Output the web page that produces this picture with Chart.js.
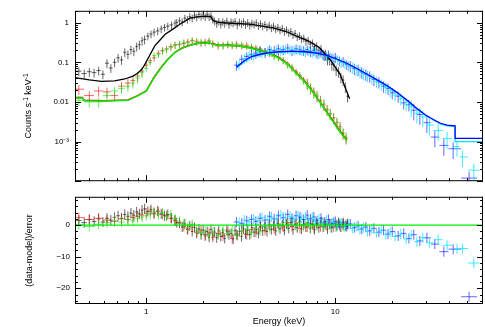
<!DOCTYPE html>
<html>
<head>
<meta charset="utf-8">
<script src="https://cdn.jsdelivr.net/npm/chart.js@4.4.0/dist/chart.umd.min.js"></script>
<style>
  html, body { margin: 0; padding: 0; background: #fff; }
  #wrap { position: relative; width: 485px; height: 327px; }
  #top { position: absolute; left: 0; top: 0; }
  #bot { position: absolute; left: 0; top: 187px; }
</style>
</head>
<body>
<div id="wrap">
  <canvas id="top" width="485" height="192"></canvas>
  <canvas id="bot" width="485" height="140"></canvas>
</div>
<script>
// ---- axis ranges and tick labels ----
const eMin = 0.42, eMax = 60.4;
const rateMin = 1e-4, rateMax = 2;
const residMin = -25, residMax = 9;
const energyTickVals = [1, 10];
const energyTickText = ['1', '10'];
const rateTickVals = [1e-3, 0.01, 0.1, 1];
const rateTickText = ['10\u207B\u00B3', '0.01', '0.1', '1'];
const residTickVals = [-20, -10, 0];
const residTickText = ['\u221220', '\u221210', '0'];

// ---- black spectrum (keV, counts/s/keV, residual) ----
const blackE = [0.44,0.47,0.50,0.53,0.56,0.59,0.62,0.65,0.68,0.71,
  0.74,0.77,0.80,0.83,0.86,0.89,0.92,0.95,0.98,1.02,
  1.06,1.10,1.15,1.20,1.25,1.30,1.36,1.42,1.45,
  1.50,1.55,1.60,1.65,1.70,1.75,1.80,1.85,1.90,1.95,
  2.00,2.05,2.10,2.15,2.20,2.25,2.30,2.36,2.42,2.48,
  2.54,2.60,2.67,2.74,2.81,2.88,2.95,3.03,3.11,3.19,
  3.27,3.35,3.44,3.53,3.62,3.72,3.82,3.92,4.02,4.13,
  4.24,4.35,4.47,4.59,4.71,4.84,4.97,5.10,5.24,5.38,
  5.52,5.67,5.82,5.97,6.13,6.29,6.46,6.63,6.81,6.99,
  7.18,7.37,7.56,7.76,7.97,8.18,8.40,8.62,8.85,9.09,
  9.33,9.58,9.83,10.1,10.4,10.7,11.0,11.3,11.6];
const blackRate = [0.060,0.052,0.058,0.055,0.062,0.050,0.095,0.072,0.10,0.13,
  0.115,0.18,0.16,0.21,0.19,0.25,0.28,0.35,0.38,0.46,
  0.52,0.58,0.62,0.70,0.76,0.82,0.88,0.98,1.02,
  1.12,1.05,1.30,1.20,1.42,1.30,1.55,1.38,1.62,1.45,
  1.58,1.40,1.65,1.42,1.50,1.22,1.10,0.95,1.08,0.92,
  1.06,0.96,1.10,0.90,1.05,0.98,1.08,0.88,1.04,0.95,
  1.06,0.90,1.00,0.86,0.98,0.92,1.00,0.84,0.94,0.82,
  0.90,0.78,0.86,0.74,0.82,0.70,0.76,0.66,0.72,0.60,
  0.66,0.56,0.60,0.50,0.54,0.44,0.47,0.39,0.41,0.34,
  0.36,0.29,0.31,0.25,0.26,0.20,0.21,0.16,0.16,0.12,
  0.12,0.088,0.085,0.064,0.058,0.042,0.036,0.024,0.014];
const blackResid = [1.5,0.8,1.8,1.2,2.0,1.0,2.2,1.6,2.5,3.0,
  2.2,3.4,2.8,3.8,3.2,4.2,3.6,4.8,5.2,4.4,
  4.9,3.8,4.5,3.6,3.0,3.4,2.2,1.6,0.8,
  0.8,-0.6,0.4,-1.4,-0.2,-2.0,-0.8,-2.6,-1.2,-3.0,
  -1.6,-3.4,-2.0,-3.8,-1.4,-3.2,-2.2,-4.0,-1.8,-3.6,
  -2.4,-4.2,-1.6,-3.0,-2.6,-4.4,-1.8,-3.2,-2.0,-3.6,
  -1.2,-2.8,-1.6,-3.0,-0.8,-2.2,-1.4,-2.6,-0.4,-1.8,
  -0.6,-2.0,0.2,-1.4,-0.2,-1.8,0.6,-1.2,0.0,-1.6,
  0.4,-1.0,0.8,-1.4,0.2,-0.8,1.0,-1.2,0.4,-0.6,
  0.8,-1.0,0.2,-1.4,0.6,-0.8,1.0,-0.6,0.2,-1.2,
  0.4,-0.8,0.6,-0.4,0.8,-0.6,0.2,-0.2,0.4];

// ---- red / green spectra (shared energy grid) ----
const rgE = [0.44,0.50,0.56,0.62,0.68,0.74,0.80,0.85,0.90,0.95,
  1.0,1.05,1.1,1.16,1.22,1.28,1.35,1.42,1.5,1.58,
  1.66,1.75,1.85,1.95,2.05,2.15,2.25,2.4,2.55,2.7,
  2.85,3.0,3.2,3.4,3.6,3.8,4.0,4.25,4.5,4.75,
  5.0,5.3,5.6,5.9,6.2,6.5,6.8,7.1,7.4,7.7,
  8.0,8.35,8.7,9.05,9.4,9.8,10.2,10.6,11.0,11.4];
const redRate = [0.021,0.0145,0.019,0.018,0.0145,0.025,0.030,0.035,0.045,0.060,
  0.085,0.11,0.13,0.17,0.20,0.22,0.25,0.27,0.28,0.30,
  0.33,0.35,0.34,0.31,0.33,0.35,0.30,0.26,0.27,0.28,
  0.27,0.29,0.26,0.27,0.24,0.23,0.21,0.19,0.17,0.15,
  0.135,0.11,0.09,0.072,0.058,0.045,0.036,0.030,0.022,0.018,
  0.014,0.011,0.0085,0.0065,0.0050,0.0040,0.0030,0.0024,0.0016,0.0012];
const greenRate = [0.011,0.010,0.010,0.0145,0.019,0.022,0.025,0.030,0.040,0.055,
  0.070,0.10,0.15,0.16,0.19,0.21,0.24,0.28,0.29,0.32,
  0.31,0.36,0.32,0.33,0.31,0.34,0.29,0.28,0.26,0.29,
  0.28,0.27,0.28,0.25,0.25,0.22,0.22,0.18,0.18,0.14,
  0.13,0.115,0.085,0.075,0.055,0.047,0.034,0.028,0.023,0.017,
  0.015,0.010,0.009,0.0062,0.0052,0.0038,0.0031,0.0022,0.0017,0.0013];
const redResid = [2.4,1.8,2.2,1.6,1.2,2.0,1.8,2.4,2.8,3.2,
  3.8,4.4,3.6,4.2,3.4,3.0,2.2,1.4,0.6,-0.4,
  -1.2,-0.6,-2.2,-1.6,-3.0,-2.4,-3.8,-2.6,-3.4,-2.0,
  -4.2,-2.8,-1.8,-3.0,-1.4,-2.2,-0.8,-1.6,-0.2,-1.2,
  0.4,-0.6,0.8,-0.4,0.6,-1.0,0.2,-0.6,0.5,-0.8,
  0.3,-0.5,0.7,-0.3,0.4,-0.6,0.2,-0.4,0.5,-0.2];
const greenResid = [0.2,-0.4,0.3,0.8,1.4,1.0,1.8,1.4,2.2,2.6,
  3.0,3.6,4.2,3.4,3.8,2.8,3.2,2.0,1.2,0.4,
  -0.6,0.2,-1.6,-2.4,-1.8,-3.2,-2.2,-3.0,-1.6,-2.6,
  -1.8,-3.2,-2.0,-1.2,-2.4,-1.0,-1.8,-0.4,-1.0,0.2,
  -0.6,0.8,0.0,1.2,-0.2,0.9,-0.4,0.6,-0.6,0.4,
  -0.2,0.8,-0.5,0.3,-0.7,0.5,-0.3,0.6,-0.4,0.3];

// ---- blue spectrum ----
const blueE = [3.0,3.2,3.4,3.6,3.8,4.0,4.25,4.5,4.75,5.0,
  5.3,5.6,5.9,6.2,6.5,6.8,7.1,7.4,7.7,8.0,
  8.4,8.8,9.2,9.6,10.0,10.5,11.0,11.5,12.0,12.6,
  13.2,13.8,14.5,15.2,16.0,17.0,18.0,19.0,20.0,21.5,
  23.0,24.5,26.0,28.0,30.5,33.6,37.5,42.0,51.0];
const blueRate = [0.085,0.12,0.14,0.16,0.17,0.19,0.18,0.21,0.20,0.22,
  0.21,0.23,0.20,0.22,0.21,0.20,0.21,0.19,0.20,0.17,
  0.18,0.15,0.155,0.13,0.135,0.11,0.105,0.088,0.082,0.07,
  0.066,0.057,0.05,0.045,0.037,0.032,0.025,0.022,0.017,0.014,
  0.0095,0.0085,0.0062,0.0048,0.0030,0.0013,0.0008,0.00066,0.00012];
const blueResid = [1.0,0.6,1.4,1.8,1.2,2.2,1.6,2.8,2.0,3.0,
  2.4,3.4,2.2,3.0,2.6,1.8,3.2,2.0,2.6,1.4,
  2.2,1.0,1.8,0.6,1.2,0.2,0.8,-0.4,0.4,-0.8,
  -0.2,-1.2,-0.6,-1.8,-1.0,-2.2,-1.6,-2.8,-2.0,-3.4,
  -2.6,-4.2,-3.0,-5.0,-4.0,-6.0,-8.4,-7.6,-22.7];

// ---- cyan spectrum ----
const cyanE = [3.1,3.3,3.5,3.7,3.9,4.1,4.4,4.6,4.9,5.15,
  5.45,5.75,6.05,6.35,6.65,6.95,7.25,7.55,7.85,8.2,
  8.6,9.0,9.4,9.8,10.25,10.75,11.25,11.75,12.3,12.9,
  13.5,14.1,14.8,15.6,16.5,17.5,18.5,19.5,20.7,22.2,
  23.7,25.2,27.0,29.0,31.5,35.0,39.0,44.0,47.0,54.0];
const cyanRate = [0.09,0.125,0.15,0.155,0.18,0.175,0.20,0.19,0.21,0.20,
  0.22,0.21,0.205,0.215,0.20,0.19,0.20,0.18,0.185,0.165,
  0.16,0.145,0.14,0.125,0.12,0.10,0.095,0.082,0.075,0.066,
  0.058,0.052,0.046,0.040,0.033,0.028,0.023,0.019,0.015,0.012,
  0.0085,0.0075,0.0052,0.0042,0.0026,0.0019,0.0012,0.00075,0.00041,0.00019];
const cyanResid = [0.8,1.6,1.0,2.0,1.4,2.4,1.8,2.6,2.0,3.2,
  2.4,2.8,1.8,3.0,2.2,2.6,1.6,2.4,1.2,2.0,
  0.8,1.6,0.4,1.0,-0.2,0.6,-0.6,0.2,-1.0,-0.4,
  -1.4,-0.8,-2.0,-1.2,-2.4,-1.6,-3.0,-2.2,-3.6,-2.8,
  -4.4,-3.2,-5.2,-4.0,-5.6,-4.6,-6.4,-7.5,-7.4,-12.0];

// ---- folded models ----
const blackModelE = [0.42,0.5,0.58,0.68,0.77,0.85,0.9,0.95,0.985,1.05,1.11,1.18,1.26,1.39,1.5,1.7,
  1.85,2.09,2.2,2.26,2.4,2.8,3.5,4.7,5.5,6.24,7.07,7.6,8.27,9.35,10.6,11.9];
const blackModel = [0.041,0.036,0.033,0.034,0.038,0.045,0.053,0.068,0.09,0.16,0.26,0.36,0.51,0.70,0.90,1.30,
  1.40,1.47,1.40,1.13,1.02,0.97,0.92,0.74,0.60,0.46,0.36,0.30,0.23,0.12,0.05,0.012];
const rgModelE = [0.42,0.46,0.47,0.6,0.8,0.9,1.0,1.1,1.2,1.3,1.42,1.55,1.7,1.85,2.0,2.15,
  2.25,2.4,2.7,3.1,3.6,4.15,4.7,5.1,5.6,6.2,6.8,7.5,8.3,9.3,10.3,11.5];
const redModel = [0.013,0.013,0.011,0.0108,0.0112,0.0144,0.019,0.042,0.075,0.12,0.18,0.23,0.27,0.30,0.31,0.31,
  0.29,0.27,0.27,0.26,0.23,0.19,0.155,0.125,0.092,0.055,0.036,0.02,0.01,0.0045,0.0022,0.0011];
const greenModel = [0.0125,0.0125,0.0108,0.0106,0.011,0.0142,0.0188,0.041,0.074,0.118,0.178,0.228,0.268,0.30,0.305,0.31,
  0.288,0.268,0.268,0.258,0.228,0.188,0.153,0.123,0.09,0.054,0.035,0.0195,0.0098,0.0044,0.0021,0.00105];
const hxModelE = [3.0,3.3,3.6,4.0,4.5,5.0,5.6,6.2,7.0,8.0,9.0,10.0,11.5,13,
  15,17,19,21,24,27,30,33,36,39,43,43,60.4];
const blueModel = [0.075,0.11,0.14,0.16,0.175,0.185,0.19,0.19,0.185,0.17,0.15,0.125,0.095,0.07,
  0.048,0.034,0.025,0.018,0.011,0.0068,0.0047,0.0036,0.0029,0.0026,0.0025,0.0012,0.0012];
const cyanModel = [0.072,0.105,0.135,0.155,0.17,0.18,0.185,0.185,0.18,0.165,0.145,0.122,0.092,0.068,
  0.047,0.033,0.024,0.0175,0.0105,0.0066,0.0046,0.0035,0.0028,0.0025,0.0024,0.001,0.001];
const zeroLine = [0, 0];

Chart.defaults.font.family = '"Liberation Sans", Arial, Helvetica, sans-serif';
Chart.defaults.color = '#000';

// bin edges halfway (in log) between neighbouring channels
function binEdges(E) {
  return E.map((e, i) => {
    const lo = i > 0 ? Math.sqrt(e * E[i - 1]) : e * Math.sqrt(e / E[i + 1]);
    const hi = i < E.length - 1 ? Math.sqrt(e * E[i + 1]) : e * Math.sqrt(e / E[i - 1]);
    return [lo, hi];
  });
}

// fractional 1-sigma errors of the count rates
const errBlack = e => e < 1 ? 0.25 : e < 8 ? 0.22 : 0.3;
const errRG = e => e < 1 ? 0.28 : e < 7 ? 0.2 : 0.3;
const errHX = e => e < 12 ? 0.28 : e < 25 ? 0.32 : 0.45;
const residErr = 1.6;

function rateSet(E, rate, color, errFn) {
  const b = binEdges(E);
  return {
    data: E.map((e, i) => ({ x: e, y: rate[i] })),
    showLine: false, pointRadius: 0, barColor: color,
    bars: E.map((e, i) => ({ x: e, y: rate[i], xl: b[i][0], xh: b[i][1],
      yl: rate[i] * (1 - errFn(e)), yh: rate[i] * (1 + errFn(e)) }))
  };
}

function residSet(E, resid, color) {
  const b = binEdges(E);
  return {
    data: E.map((e, i) => ({ x: e, y: resid[i] })),
    showLine: false, pointRadius: 0, barColor: color,
    bars: E.map((e, i) => ({ x: e, y: resid[i], xl: b[i][0], xh: b[i][1],
      yl: resid[i] - residErr, yh: resid[i] + residErr }))
  };
}

function modelSet(E, vals, color, width, order) {
  return {
    data: E.map((e, i) => ({ x: e, y: vals[i] })),
    showLine: true, pointRadius: 0, borderColor: color, borderWidth: width,
    fill: false, tension: 0, order: order
  };
}

// error crosses, drawn under the model lines
const crossPlugin = {
  id: 'crosses',
  beforeDatasetsDraw(chart) {
    const { ctx, chartArea: a, scales } = chart;
    ctx.save();
    ctx.beginPath();
    ctx.rect(a.left, a.top, a.right - a.left, a.bottom - a.top);
    ctx.clip();
    ctx.lineWidth = 1;
    chart.data.datasets.forEach(ds => {
      if (!ds.bars) return;
      ctx.strokeStyle = ds.barColor;
      ctx.beginPath();
      ds.bars.forEach(b => {
        const px = scales.x.getPixelForValue(b.x);
        const py = scales.y.getPixelForValue(b.y);
        ctx.moveTo(scales.x.getPixelForValue(b.xl), py);
        ctx.lineTo(scales.x.getPixelForValue(b.xh), py);
        ctx.moveTo(px, scales.y.getPixelForValue(b.yl));
        ctx.lineTo(px, scales.y.getPixelForValue(b.yh));
      });
      ctx.stroke();
    });
    ctx.restore();
  }
};

function logTicks(min, max) {
  const out = [];
  for (let k = Math.floor(Math.log10(min)); k <= Math.ceil(Math.log10(max)); k++) {
    for (let m = 1; m <= 9; m++) {
      const v = m * Math.pow(10, k);
      if (v >= min * 0.999 && v <= max * 1.001) out.push([v, m === 1]);
    }
  }
  return out;
}

function linTicks(min, max) {
  const out = [];
  for (let v = Math.ceil(min / 2) * 2; v <= max; v += 2) out.push([v, v % 10 === 0]);
  return out;
}

// frame with inward ticks on all four sides
const framePlugin = {
  id: 'frame',
  afterDatasetsDraw(chart) {
    const { ctx, chartArea: a, scales } = chart;
    const xs = scales.x, ys = scales.y;
    ctx.save();
    ctx.strokeStyle = '#000';
    ctx.lineWidth = 1;
    ctx.strokeRect(a.left + 0.5, a.top + 0.5, a.right - a.left - 1, a.bottom - a.top - 1);
    ctx.beginPath();
    logTicks(eMin, eMax).forEach(([v, major]) => {
      const x = Math.round(xs.getPixelForValue(v)) + 0.5;
      const len = major ? 6 : 3;
      ctx.moveTo(x, a.top); ctx.lineTo(x, a.top + len);
      ctx.moveTo(x, a.bottom); ctx.lineTo(x, a.bottom - len);
    });
    const yt = ys.type === 'logarithmic' ? logTicks(ys.min, ys.max) : linTicks(ys.min, ys.max);
    yt.forEach(([v, major]) => {
      const y = Math.round(ys.getPixelForValue(v)) + 0.5;
      const len = major ? 6 : 3;
      ctx.moveTo(a.left, y); ctx.lineTo(a.left + len, y);
      ctx.moveTo(a.right, y); ctx.lineTo(a.right - len, y);
    });
    ctx.stroke();
    ctx.restore();
  }
};

// y title with superscripts for the upper panel
const countsTitle = {
  id: 'countsTitle',
  afterDraw(chart) {
    const ctx = chart.ctx;
    const parts = [['Counts s', false], ['-1', true], [' keV', false], ['-1', true]];
    const big = '9px "Liberation Sans", Arial, sans-serif';
    const small = '6.5px "Liberation Sans", Arial, sans-serif';
    ctx.save();
    ctx.translate(29, 106);
    ctx.rotate(-Math.PI / 2);
    let total = 0;
    parts.forEach(([t, sup]) => { ctx.font = sup ? small : big; total += ctx.measureText(t).width; });
    let cx = -total / 2;
    ctx.fillStyle = '#000';
    ctx.textBaseline = 'middle';
    parts.forEach(([t, sup]) => {
      ctx.font = sup ? small : big;
      ctx.fillText(t, cx, sup ? -3 : 0);
      cx += ctx.measureText(t).width;
    });
    ctx.restore();
  }
};

const topChart = new Chart(document.getElementById('top'), {
  type: 'scatter',
  data: {
    datasets: [
      rateSet(blackE, blackRate, 'rgba(0,0,0,0.6)', errBlack),
      rateSet(rgE, redRate, 'rgba(255,0,0,0.6)', errRG),
      rateSet(rgE, greenRate, 'rgba(0,235,0,0.6)', errRG),
      rateSet(blueE, blueRate, 'rgba(0,0,255,0.6)', errHX),
      rateSet(cyanE, cyanRate, 'rgba(0,230,255,0.75)', errHX),
      modelSet(blackModelE, blackModel, '#000', 1.3, 5),
      modelSet(rgModelE, redModel, '#ff0000', 1.5, 4),
      modelSet(rgModelE, greenModel, '#00ee00', 1.5, 3),
      modelSet(hxModelE, cyanModel, '#00e5ff', 1.3, 2),
      modelSet(hxModelE, blueModel, '#0000ff', 1.3, 1)
    ]
  },
  options: {
    responsive: false,
    animation: false,
    devicePixelRatio: 1,
    layout: { padding: { top: 1, right: 2, bottom: 2, left: 0 } },
    plugins: { legend: { display: false }, tooltip: { enabled: false } },
    scales: {
      x: { type: 'logarithmic', min: eMin, max: eMax, display: false },
      y: {
        type: 'logarithmic', min: rateMin, max: rateMax,
        grid: { display: false, drawTicks: false },
        border: { display: false },
        afterBuildTicks: s => { s.ticks = rateTickVals.map(v => ({ value: v })); },
        ticks: { padding: 6, font: { size: 8 }, callback: (v, i) => rateTickText[i] },
        afterFit: s => { s.width = 75; }
      }
    }
  },
  plugins: [crossPlugin, framePlugin, countsTitle]
});

const botChart = new Chart(document.getElementById('bot'), {
  type: 'scatter',
  data: {
    datasets: [
      residSet(blackE, blackResid, 'rgba(0,0,0,0.6)'),
      residSet(rgE, redResid, 'rgba(255,0,0,0.6)'),
      residSet(rgE, greenResid, 'rgba(0,235,0,0.6)'),
      residSet(blueE, blueResid, 'rgba(0,0,255,0.6)'),
      residSet(cyanE, cyanResid, 'rgba(0,230,255,0.75)'),
      modelSet([eMin, eMax], zeroLine, '#00ee00', 1.3, 0)
    ]
  },
  options: {
    responsive: false,
    animation: false,
    devicePixelRatio: 1,
    layout: { padding: { top: 2, right: 2, bottom: 0, left: 0 } },
    plugins: { legend: { display: false }, tooltip: { enabled: false } },
    scales: {
      x: {
        type: 'logarithmic', min: eMin, max: eMax,
        grid: { display: false, drawTicks: false },
        border: { display: false },
        afterBuildTicks: s => { s.ticks = energyTickVals.map(v => ({ value: v })); },
        ticks: { padding: 3, font: { size: 8 }, maxRotation: 0, callback: (v, i) => energyTickText[i] },
        title: { display: true, text: 'Energy (keV)', font: { size: 9 }, padding: { top: 0, bottom: 0 } },
        afterFit: s => { s.height = 23; }
      },
      y: {
        type: 'linear', min: residMin, max: residMax,
        grid: { display: false, drawTicks: false },
        border: { display: false },
        afterBuildTicks: s => { s.ticks = residTickVals.map(v => ({ value: v })); },
        ticks: { padding: 5, font: { size: 8 }, callback: (v, i) => residTickText[i] },
        title: { display: true, text: '(data-model)/error', font: { size: 9 }, padding: { top: 24, bottom: 0 } },
        afterFit: s => { s.width = 75; }
      }
    }
  },
  plugins: [crossPlugin, framePlugin]
});
</script>
</body>
</html>
